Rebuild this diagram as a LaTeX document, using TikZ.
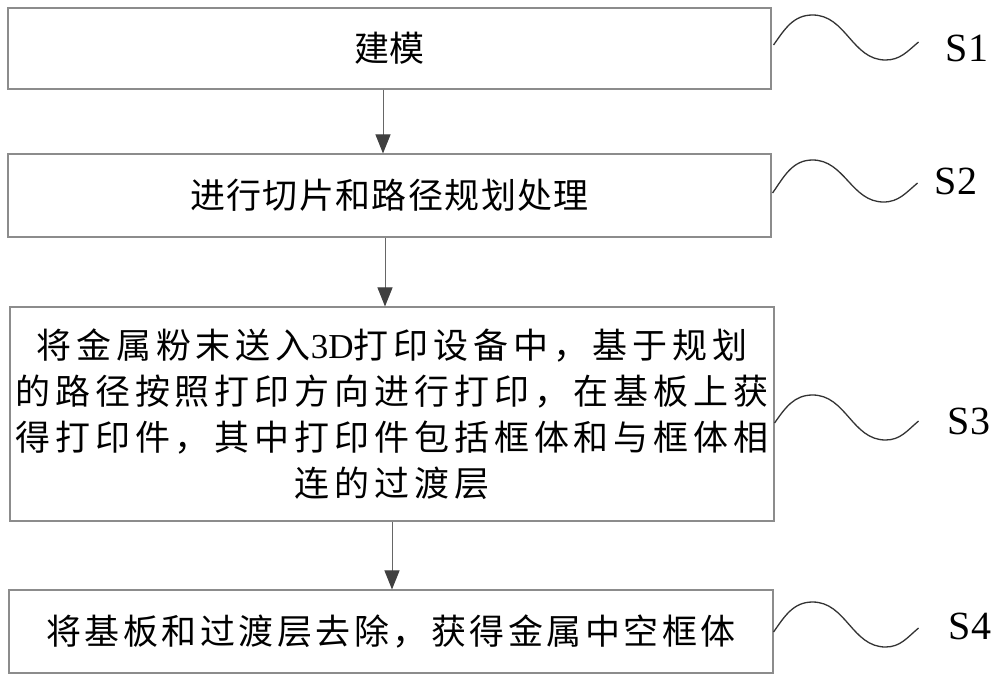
\documentclass[tikz,border=0pt]{standalone}
\usepackage{fontspec}
\setmainfont{Liberation Serif}
\newfontfamily\cjk{Noto Sans CJK SC}
\usepackage{tikz}
\usetikzlibrary{positioning, arrows.meta, calc}

\begin{document}
\begin{tikzpicture}[x=1pt, y=1pt,
    stepbox/.style={draw=black!45, line width=1.1pt, inner sep=0pt, minimum width=764pt,
        align=center, font=\cjk\fontsize{35}{46}\selectfont},
    flow/.style={draw=black!60, line width=1pt, -{Triangle[width=15pt,length=19pt,color=black!75]}},
    wave/.style={draw=black!80, line width=1.3pt},
    steplabel/.style={font=\fontsize{40}{40}\selectfont, inner sep=0pt}]
    \useasboundingbox (0,0) rectangle (1000,-682);

    % steps
    \node[stepbox, minimum width=763pt, minimum height=81pt] (s1) at (389.5,-48.5) {建模};
    \node[stepbox, minimum width=763pt, minimum height=83pt, font=\cjk\fontsize{35}{46}\selectfont\addfontfeature{LetterSpace=4}] (s2) at (389.5,-195.5) {进行切片和路径规划处理};
    \node[stepbox, minimum height=214pt, font=\cjk\fontsize{35}{46}\selectfont\addfontfeature{LetterSpace=14}] (s3) at (392,-414)
        {将金属粉末送入{\rmfamily 3D}打印设备中，基于规划\\
         的路径按照打印方向进行打印，在基板上获\\
         得打印件，其中打印件包括框体和与框体相\\
         连的过渡层};
    \node[stepbox, minimum height=83pt, font=\cjk\fontsize{35}{46}\selectfont\addfontfeature{LetterSpace=10}] (s4) at (391,-631.5) {将基板和过渡层去除，获得金属中空框体};

    % labels
    \node[steplabel] (l1) at (967,-48) {S1};
    \node[steplabel] (l2) at (956,-181) {S2};
    \node[steplabel] (l3) at (969,-421) {S3};
    \node[steplabel] (l4) at (970,-626) {S4};

    % arrows
    \draw[flow] ($(s1.south)+(-6.5,0)$) -- ($(s2.north)+(-6.5,0)$);
    \draw[flow] ($(s2.south)+(-4.5,0)$) -- ($(s3.north)+(-7,0)$);
    \draw[flow] ($(s3.south)+(0,0)$) -- ($(s4.north)+(1,0)$);

    % waves
    \draw[wave] ($(s1.east)+(2,3.5)$) to[out=55,in=180] ++(39,30) to[out=0,in=180] ++(73,-45) to[out=0,in=220] ++(33,18);
    \draw[wave] ($(s2.east)+(1,2.5)$) to[out=55,in=180] ++(40,33) to[out=0,in=180] ++(71,-42) to[out=0,in=220] ++(34,19);
    \draw[wave] ($(s3.east)+(0,-9)$) to[out=55,in=180] ++(38,28) to[out=0,in=180] ++(73,-45) to[out=0,in=220] ++(33,19);
    \draw[wave] ($(s4.east)+(0,-0.5)$) to[out=55,in=180] ++(39,30) to[out=0,in=180] ++(73,-45) to[out=0,in=220] ++(33,19);
\end{tikzpicture}
\end{document}
